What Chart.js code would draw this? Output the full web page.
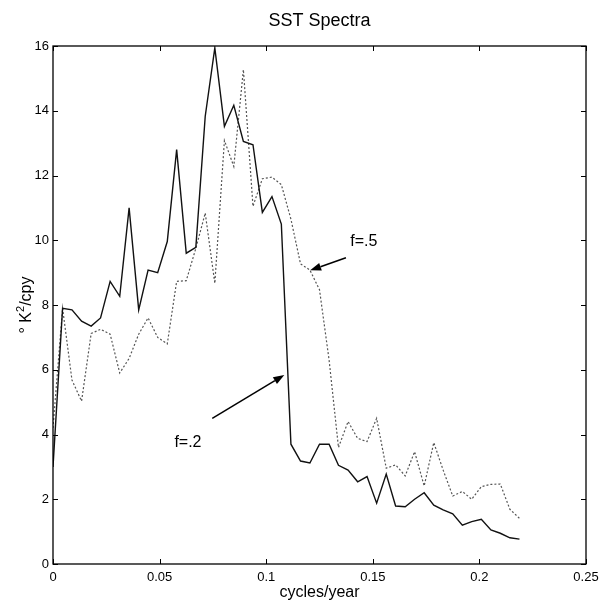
<!DOCTYPE html>
<html>
<head>
<meta charset="utf-8">
<script src="https://cdn.jsdelivr.net/npm/chart.js@4.4.1/dist/chart.umd.min.js"></script>
<style>
  html, body { margin: 0; padding: 0; background: #fff; }
  #wrap { width: 599px; height: 606px; }
</style>
</head>
<body>
<div id="wrap"><canvas id="spectra" width="599" height="606"></canvas></div>
<script>
// frequencies (cycles/year)
const freq = [0, 0.0045, 0.0089, 0.0134, 0.0179, 0.0223, 0.0268, 0.0313, 0.0357, 0.0402,
  0.0446, 0.0491, 0.0536, 0.058, 0.0625, 0.067, 0.0714, 0.0759, 0.0804, 0.0848,
  0.0893, 0.0938, 0.0982, 0.1027, 0.1071, 0.1116, 0.1161, 0.1205, 0.125, 0.1295,
  0.1339, 0.1384, 0.1429, 0.1473, 0.1518, 0.1563, 0.1607, 0.1652, 0.1696, 0.1741,
  0.1786, 0.183, 0.1875, 0.192, 0.1964, 0.2009, 0.2054, 0.2098, 0.2143, 0.2188];

// spectrum f=.2 (solid)
const specF2 = [3.0, 7.9, 7.85, 7.5, 7.35, 7.6, 8.73, 8.27, 11.0, 7.85,
  9.08, 9.0, 9.96, 12.8, 9.6, 9.78, 13.83, 15.94, 13.52, 14.17,
  13.05, 12.95, 10.86, 11.35, 10.5, 3.7, 3.18, 3.12, 3.7, 3.7,
  3.05, 2.9, 2.54, 2.7, 1.88, 2.78, 1.79, 1.77, 2.0, 2.2,
  1.82, 1.67, 1.55, 1.2, 1.31, 1.38, 1.05, 0.95, 0.81, 0.77];

// spectrum f=.5 (dotted)
const specF5 = [4.2, 7.9, 5.68, 5.03, 7.12, 7.25, 7.1, 5.9, 6.35, 7.1,
  7.6, 7.0, 6.8, 8.73, 8.75, 9.75, 10.84, 8.67, 13.08, 12.28,
  15.27, 11.05, 11.9, 11.95, 11.72, 10.65, 9.27, 9.08, 8.47, 6.3,
  3.6, 4.4, 3.88, 3.78, 4.5, 2.96, 3.06, 2.72, 3.47, 2.41,
  3.75, 2.9, 2.1, 2.24, 2.0, 2.39, 2.46, 2.47, 1.69, 1.41];

const xTicks = [0, 0.05, 0.1, 0.15, 0.2, 0.25];
const yTicks = [0, 2, 4, 6, 8, 10, 12, 14, 16];

// labels with arrows: text position, arrow start, arrow tip (data coords)
const notes = [
  { text: "f=.5", tx: 0.1394, ty: 9.95, x0: 0.1374, y0: 9.46, x1: 0.1206, y1: 9.07 },
  { text: "f=.2", tx: 0.0633, ty: 3.74, x0: 0.0747, y0: 4.5, x1: 0.1085, y1: 5.84 }
];

const FONT = "'Liberation Sans', Arial, sans-serif";

function toPoints(ys) {
  let pts = [];
  for (let i = 0; i < freq.length; i++) {
    pts.push({ x: freq[i], y: ys[i] });
  }
  return pts;
}

// box, inward ticks, titles and arrows
const decorations = {
  id: "decorations",
  afterDraw(chart) {
    const ctx = chart.ctx;
    const a = chart.chartArea;
    const xs = chart.scales.x;
    const ys = chart.scales.y;
    ctx.save();

    ctx.strokeStyle = "#000";
    ctx.lineWidth = 1.3;
    ctx.strokeRect(a.left, a.top, a.right - a.left, a.bottom - a.top);

    ctx.lineWidth = 1;
    const t = 5;
    ctx.beginPath();
    xTicks.forEach(function (v) {
      let px = Math.round(xs.getPixelForValue(v)) + 0.5;
      ctx.moveTo(px, a.bottom); ctx.lineTo(px, a.bottom - t);
      ctx.moveTo(px, a.top); ctx.lineTo(px, a.top + t);
    });
    yTicks.forEach(function (v) {
      let py = Math.round(ys.getPixelForValue(v)) + 0.5;
      ctx.moveTo(a.left, py); ctx.lineTo(a.left + t, py);
      ctx.moveTo(a.right, py); ctx.lineTo(a.right - t, py);
    });
    ctx.stroke();

    // title and x label
    const cx = (a.left + a.right) / 2;
    ctx.fillStyle = "#000";
    ctx.textAlign = "center";
    ctx.textBaseline = "alphabetic";
    ctx.font = "18px " + FONT;
    ctx.fillText("SST Spectra", cx, 26);
    ctx.font = "16px " + FONT;
    ctx.fillText("cycles/year", cx, 597);

    // y label: ° K²/cpy
    ctx.save();
    ctx.translate(31, (a.top + a.bottom) / 2);
    ctx.rotate(-Math.PI / 2);
    ctx.textAlign = "left";
    ctx.font = "16px " + FONT;
    const w1 = ctx.measureText("\u00b0 K").width;
    ctx.font = "11px " + FONT;
    const w2 = ctx.measureText("2").width;
    ctx.font = "16px " + FONT;
    const w3 = ctx.measureText("/cpy").width;
    let sx = -(w1 + w2 + w3) / 2;
    ctx.fillText("\u00b0 K", sx, 0);
    ctx.font = "11px " + FONT;
    ctx.fillText("2", sx + w1, -7);
    ctx.font = "16px " + FONT;
    ctx.fillText("/cpy", sx + w1 + w2, 0);
    ctx.restore();

    // annotations
    notes.forEach(function (n) {
      ctx.font = "16px " + FONT;
      ctx.textAlign = n.text === "f=.2" ? "center" : "left";
      ctx.textBaseline = "middle";
      ctx.fillText(n.text, xs.getPixelForValue(n.tx), ys.getPixelForValue(n.ty));

      let x0 = xs.getPixelForValue(n.x0), y0 = ys.getPixelForValue(n.y0);
      let x1 = xs.getPixelForValue(n.x1), y1 = ys.getPixelForValue(n.y1);
      let ang = Math.atan2(y1 - y0, x1 - x0);
      let hl = 11, hw = 4;
      ctx.lineWidth = 1.5;
      ctx.beginPath();
      ctx.moveTo(x0, y0);
      ctx.lineTo(x1 - hl * Math.cos(ang), y1 - hl * Math.sin(ang));
      ctx.stroke();
      ctx.beginPath();
      ctx.moveTo(x1, y1);
      ctx.lineTo(x1 - hl * Math.cos(ang) + hw * Math.sin(ang), y1 - hl * Math.sin(ang) - hw * Math.cos(ang));
      ctx.lineTo(x1 - hl * Math.cos(ang) - hw * Math.sin(ang), y1 - hl * Math.sin(ang) + hw * Math.cos(ang));
      ctx.closePath();
      ctx.fill();
    });

    ctx.restore();
  }
};

new Chart(document.getElementById("spectra"), {
  type: "line",
  data: {
    datasets: [
      {
        label: "f=.2",
        data: toPoints(specF2),
        borderColor: "#111",
        borderWidth: 1.4,
        pointRadius: 0,
        tension: 0
      },
      {
        label: "f=.5",
        data: toPoints(specF5),
        borderColor: "#555",
        borderWidth: 1.2,
        borderDash: [2, 2],
        pointRadius: 0,
        tension: 0
      }
    ]
  },
  options: {
    responsive: false,
    animation: false,
    devicePixelRatio: 1,
    layout: { padding: { top: 46, right: 13, left: 0, bottom: 0 } },
    plugins: {
      legend: { display: false },
      title: { display: false },
      tooltip: { enabled: false }
    },
    scales: {
      x: {
        type: "linear",
        min: 0,
        max: 0.25,
        afterBuildTicks: function (scale) {
          scale.ticks = xTicks.map(function (v) { return { value: v }; });
        },
        afterFit: function (scale) {
          scale.height = 42;
          scale.paddingLeft = 0;
          scale.paddingRight = 0;
        },
        grid: { display: false, drawTicks: false },
        border: { display: false },
        ticks: {
          color: "#000",
          padding: 6,
          maxRotation: 0,
          font: { family: FONT, size: 13 },
          callback: function (v) { return String(Number(v.toFixed(2))); }
        }
      },
      y: {
        type: "linear",
        min: 0,
        max: 16,
        afterBuildTicks: function (scale) {
          scale.ticks = yTicks.map(function (v) { return { value: v }; });
        },
        afterFit: function (scale) {
          scale.width = 53;
          scale.paddingTop = 0;
          scale.paddingBottom = 0;
        },
        grid: { display: false, drawTicks: false },
        border: { display: false },
        ticks: {
          color: "#000",
          padding: 4,
          font: { family: FONT, size: 13 }
        }
      }
    }
  },
  plugins: [decorations]
});
</script>
</body>
</html>
